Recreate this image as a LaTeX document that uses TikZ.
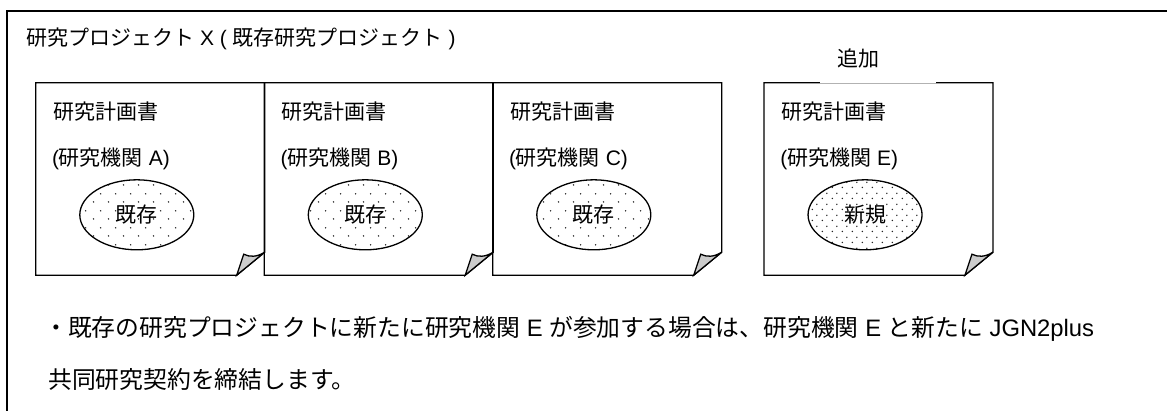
\documentclass[tikz,border=0pt]{standalone}
\usepackage{fontspec}
\setmainfont{Liberation Sans}
\newfontfamily\jp{Noto Sans CJK JP}
\usetikzlibrary{patterns,shapes.geometric,calc}
\pgfdeclarepatternformonly{sparsedots}{\pgfqpoint{0pt}{0pt}}{\pgfqpoint{15pt}{17pt}}{\pgfqpoint{15pt}{17pt}}{%
  \pgfpathcircle{\pgfqpoint{3.75pt}{4.25pt}}{0.85pt}%
  \pgfpathcircle{\pgfqpoint{11.25pt}{12.75pt}}{0.85pt}%
  \pgfusepath{fill}}
\pgfdeclarepatternformonly{densedots}{\pgfqpoint{0pt}{0pt}}{\pgfqpoint{10pt}{11pt}}{\pgfqpoint{10pt}{11pt}}{%
  \pgfpathcircle{\pgfqpoint{2.5pt}{2.75pt}}{0.85pt}%
  \pgfpathcircle{\pgfqpoint{7.5pt}{8.25pt}}{0.85pt}%
  \pgfusepath{fill}}
\tikzset{
  frameline/.style={line width=1.6pt, black},
  boxline/.style={line width=1.3pt, black, line join=miter},
  pg/.style={rectangle, inner sep=0pt, minimum width=228.5pt, minimum height=192pt},
  lbl/.style={inner sep=0pt, font=\fontsize{21pt}{24pt}\selectfont},
  big/.style={inner sep=0pt, font=\fontsize{23.8pt}{28pt}\selectfont},
  oldblob/.style={ellipse, draw, line width=1.3pt, minimum width=114pt, minimum height=70pt, inner sep=0pt,
    pattern=sparsedots, pattern color=black!85, font=\fontsize{21pt}{24pt}\selectfont},
  newblob/.style={oldblob, pattern=densedots},
  foldfill/.style={boxline, fill=black!20},
}
\newcommand\pagebox[1]{%
  \draw[boxline] (#1.north west) -- (#1.north east) -- ([yshift=23pt]#1.south east)
    -- ([xshift=-28pt]#1.south east) -- (#1.south west) -- cycle;
  \filldraw[foldfill] ([xshift=-28pt]#1.south east) -- ([xshift=-21pt,yshift=21pt]#1.south east)
    .. controls ([xshift=-15pt,yshift=18pt]#1.south east) and ([xshift=-8pt,yshift=18pt]#1.south east)
    .. ([yshift=23pt]#1.south east) -- cycle;}
\begin{document}
\begin{tikzpicture}[x=1pt, y=-1pt]
\useasboundingbox[fill=white] (0,0) rectangle (1167,410);
% outer frame (cut at right and bottom)
\draw[frameline] (1200,11) -- (7,11) -- (7,440);
\node[lbl, anchor=west] (title) at (26,39) {{\jp 研究プロジェクト} X ( {\jp 既存研究プロジェクト} )};
% pages
\node[pg] (pa) at (150.25,179) {};
\node[pg] (pb) at (378.75,179) {};
\node[pg] (pc) at (607.25,179) {};
\node[pg] (pe) at (878.5,179) {};
\pagebox{pa}
\pagebox{pb}
\pagebox{pc}
\pagebox{pe}
\foreach \p/\inst/\st/\word in {pa/A/oldblob/既存, pb/B/oldblob/既存, pc/C/oldblob/既存, pe/E/newblob/新規}{
  \node[lbl, anchor=west] (\p t1) at ($(\p.north west)+(17,29)$) {\jp 研究計画書};
  \node[lbl, anchor=west] (\p t2) at ($(\p.north west)+(16,76)$) {({\jp 研究機関} \inst)};
  \node[\st] (\p blob) at ($(\p.north west)+(101,132)$) {\jp \word};
}
% "added" label covering the top edge of page E
\fill[white] (820,40) rectangle (936,84);
\draw[black!30, line width=0.6pt] (820,83) -- (936,83);
\node[lbl] (add) at (858,58) {\jp 追加};
% note
\node[big, anchor=west] (note1) at (44,329) {{\jp ・既存の研究プロジェクトに新たに研究機関} E {\jp が参加する場合は、研究機関} E {\jp と新たに} JGN2plus};
\node[big, anchor=west] (note2) at (48,379) {\jp 共同研究契約を締結します。};
\end{tikzpicture}
\end{document}
